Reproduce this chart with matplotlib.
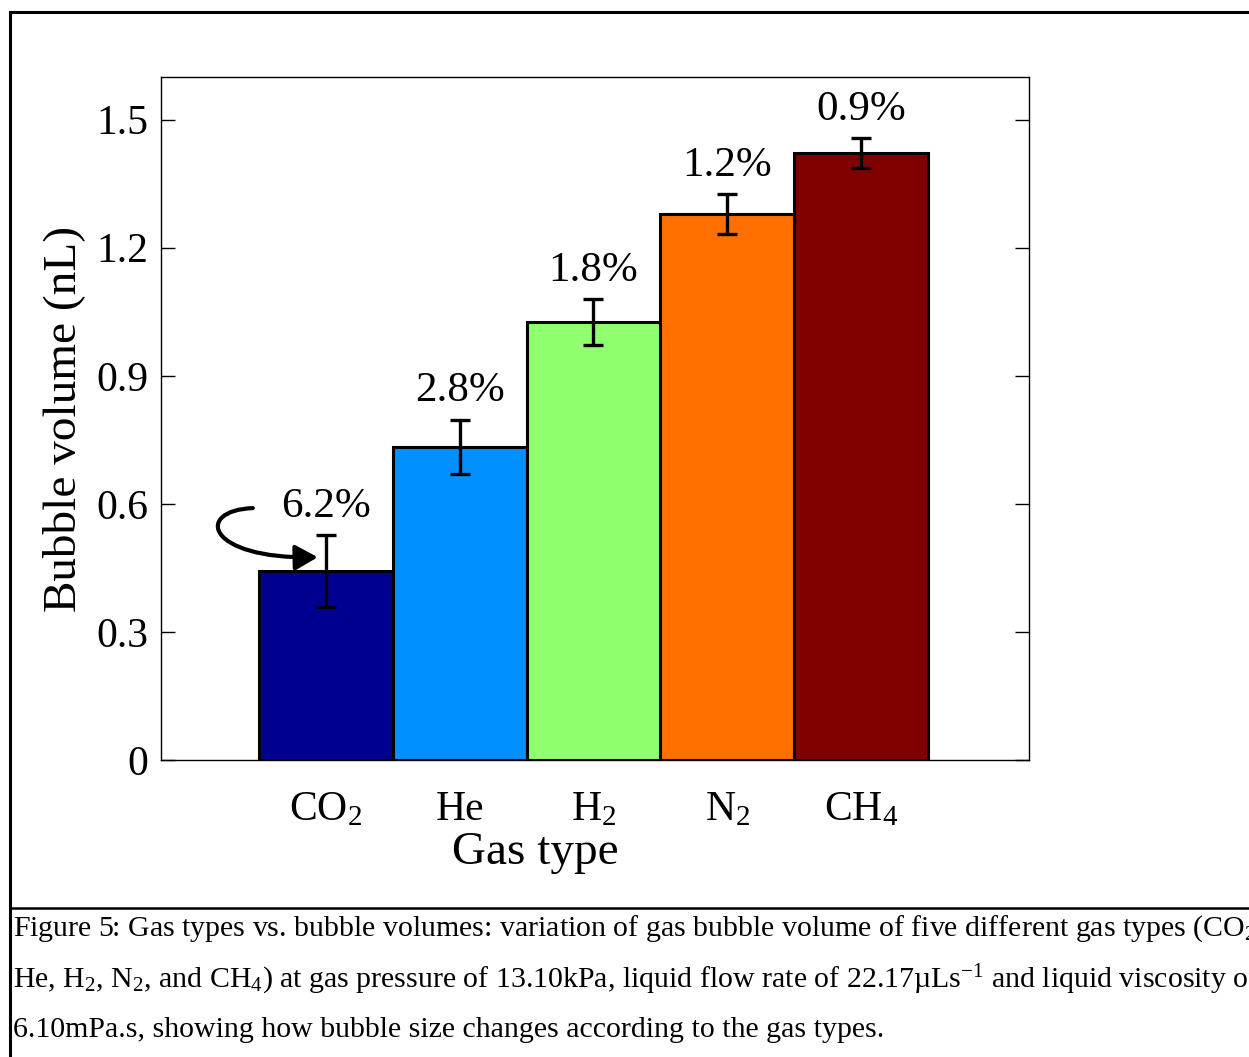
import matplotlib

matplotlib.use("Agg")
import matplotlib.pyplot as plt
from matplotlib.lines import Line2D
from matplotlib.patches import FancyArrowPatch
from matplotlib.path import Path

plt.rcParams["font.family"] = ["Liberation Serif", "DejaVu Serif"]
plt.rcParams["mathtext.fontset"] = "custom"
plt.rcParams["mathtext.rm"] = "Liberation Serif"
plt.rcParams["mathtext.it"] = "Liberation Serif:italic"

gases = ["CO$_2$", "He", "H$_2$", "N$_2$", "CH$_4$"]
volumes = [0.442, 0.733, 1.025, 1.278, 1.421]
errors = [0.084, 0.063, 0.054, 0.047, 0.035]
pct_labels = ["6.2%", "2.8%", "1.8%", "1.2%", "0.9%"]
colors = ["#000090", "#0090FF", "#90FF70", "#FF7000", "#800000"]
yticks = [0, 0.3, 0.6, 0.9, 1.2, 1.5]
ytick_labels = ["0", "0.3", "0.6", "0.9", "1.2", "1.5"]

caption = [
    "Figure 5: Gas types vs. bubble volumes: variation of gas bubble volume of five different gas types (CO$_2$,",
    "He, H$_2$, N$_2$, and CH$_4$) at gas pressure of 13.10kPa, liquid flow rate of 22.17\u00b5Ls$^{-1}$ and liquid viscosity of",
    "6.10mPa.s, showing how bubble size changes according to the gas types.",
]

fig = plt.figure(figsize=(12.49, 10.57), dpi=100)
ax = fig.add_axes([0.1289, 0.2810, 0.6950, 0.6462])

x = list(range(1, len(gases) + 1))
ax.bar(x, volumes, width=1.0, color=colors, edgecolor="black", linewidth=2.2, zorder=2)
ax.errorbar(x, volumes, yerr=errors, fmt="none", ecolor="black", elinewidth=2.4,
            capsize=7, capthick=2.4, zorder=3)
for xi, v, e, lab in zip(x, volumes, errors, pct_labels):
    ax.annotate(lab, (xi, v + e), xytext=(0, 7), textcoords="offset points",
                ha="center", va="bottom", fontsize=31)

# curved arrow pointing at the CO2 bar
verts = [(0.455, 0.590), (0.02, 0.585), (0.10, 0.470), (0.94, 0.475)]
codes = [Path.MOVETO, Path.CURVE4, Path.CURVE4, Path.CURVE4]
arrow = FancyArrowPatch(path=Path(verts, codes),
                        arrowstyle="-|>,head_length=0.8,head_width=0.45",
                        mutation_scale=17, lw=3, color="black", zorder=4)
ax.add_patch(arrow)

ax.set_xlim(-0.231, 6.254)
ax.set_ylim(0, 1.6)
ax.set_xticks(x)
ax.set_xticklabels(gases, fontsize=30)
ax.set_yticks(yticks)
ax.set_yticklabels(ytick_labels, fontsize=30)
ax.tick_params(axis="y", direction="in", length=10, width=1, pad=9, right=True)
ax.tick_params(axis="x", length=0, pad=22)
ax.set_xlabel("Gas type", fontsize=34)
ax.xaxis.set_label_coords(0.431, -0.105)
ax.set_ylabel("Bubble volume (nL)", fontsize=34, labelpad=8)
for s in ax.spines.values():
    s.set_linewidth(1.0)

# figure frame and caption separator
fig.add_artist(Line2D([0.008, 1.0], [0.9886, 0.9886], color="black", lw=2.2))
fig.add_artist(Line2D([0.008, 0.008], [0.0, 0.9886], color="black", lw=2.2))
fig.add_artist(Line2D([0.008, 1.0], [0.1410, 0.1410], color="black", lw=1.8))

for i, line in enumerate(caption):
    fig.text(0.0105, 0.121 - i * 0.0478, line, fontsize=21.5, ha="left", va="center")

fig.savefig("out.png", dpi=100)
